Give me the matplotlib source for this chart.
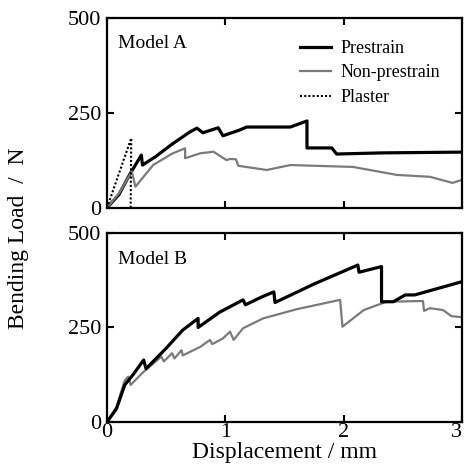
import matplotlib
matplotlib.use('Agg')
import matplotlib.pyplot as plt

plt.rcParams['font.family'] = ['Liberation Serif', 'DejaVu Serif']

# Model A (top panel)
a_pre_x = [0, 0.10, 0.19, 0.29, 0.30, 0.41, 0.55, 0.70, 0.76, 0.81, 0.94, 0.98, 1.12, 1.18, 1.55,
           1.69, 1.69, 1.90, 1.94, 2.33, 3.0]
a_pre_y = [0, 35, 87, 139, 113, 135, 168, 200, 210, 198, 211, 190, 205, 213, 213,
           229, 158, 158, 142, 145, 147]

a_non_x = [0, 0.10, 0.21, 0.24, 0.39, 0.55, 0.66, 0.66, 0.79, 0.90, 1.01, 1.04, 1.09, 1.11, 1.35,
           1.55, 2.08, 2.45, 2.73, 2.92, 3.0]
a_non_y = [0, 38, 96, 56, 113, 143, 157, 131, 144, 148, 126, 129, 128, 111, 100,
           113, 108, 87, 82, 66, 74]

a_pla_x = [0, 0.205, 0.20]
a_pla_y = [0, 184, 0]

# Model B (bottom panel)
b_pre_x = [0, 0.08, 0.15, 0.22, 0.31, 0.33, 0.50, 0.64, 0.77, 0.77, 0.95, 1.15, 1.17, 1.31,
           1.41, 1.42, 1.75, 2.12, 2.13, 2.32, 2.32, 2.42, 2.52, 2.60, 3.0]
b_pre_y = [0, 35, 98, 125, 164, 141, 195, 243, 274, 250, 290, 323, 310, 331,
           344, 316, 365, 415, 396, 411, 318, 318, 336, 336, 371]

b_non_x = [0, 0.08, 0.15, 0.18, 0.20, 0.30, 0.46, 0.48, 0.55, 0.57, 0.63, 0.64, 0.79, 0.87,
           0.89, 0.98, 1.04, 1.07, 1.15, 1.32, 1.60, 1.97, 1.99, 2.17, 2.36, 2.67, 2.68,
           2.73, 2.84, 2.91, 3.0]
b_non_y = [0, 40, 110, 120, 98, 130, 173, 160, 182, 168, 190, 176, 199, 217,
           206, 221, 239, 217, 248, 274, 298, 323, 252, 296, 318, 320, 294,
           301, 296, 280, 277]

fig = plt.figure(figsize=(4.65, 4.68), dpi=100)
ax_a = fig.add_axes([0.2301, 0.5556, 0.7634, 0.406])
ax_b = fig.add_axes([0.2301, 0.0983, 0.7634, 0.404])

gray = '#7a7a7a'

for ax in (ax_a, ax_b):
    ax.set_xlim(0, 3)
    ax.set_ylim(0, 500)
    ax.set_xticks([0, 1, 2, 3])
    ax.set_yticks([0, 250, 500])
    ax.tick_params(direction='in', length=5, width=1.5, top=True, right=True,
                   labelsize=16, pad=4)
    ax.tick_params(axis='x', pad=1)
    for s in ax.spines.values():
        s.set_linewidth(1.6)

ax_a.tick_params(labelbottom=False)

ax_a.plot(a_pre_x, a_pre_y, color='black', lw=2.3, label='Prestrain')
ax_a.plot(a_non_x, a_non_y, color=gray, lw=1.6, label='Non-prestrain')
ax_a.plot(a_pla_x, a_pla_y, color='black', lw=1.5, ls=(0, (1, 1)), label='Plaster')

ax_b.plot(b_non_x, b_non_y, color=gray, lw=1.6)
ax_b.plot(b_pre_x, b_pre_y, color='black', lw=2.3)

ax_a.text(0.031, 0.868, 'Model A', transform=ax_a.transAxes, fontsize=14,
          ha='left', va='center')
ax_b.text(0.031, 0.857, 'Model B', transform=ax_b.transAxes, fontsize=14,
          ha='left', va='center')

ax_a.legend(loc='upper left', bbox_to_anchor=(0.545, 0.885), frameon=False,
            fontsize=13, handlelength=1.7, handletextpad=0.5, labelspacing=0.42,
            borderpad=0, borderaxespad=0)

# keep the last x tick label inside the figure
fig.canvas.draw()
ax_b.get_xticklabels()[-1].set_horizontalalignment('right')
ax_b.get_xticklabels()[-1].set_x(3.03)

ax_b.set_xlabel('Displacement / mm', fontsize=17, labelpad=0)
fig.text(0.04, 0.49, 'Bending Load  /  N', rotation=90, fontsize=17,
         ha='center', va='center')

fig.savefig('out.png', dpi=100)
